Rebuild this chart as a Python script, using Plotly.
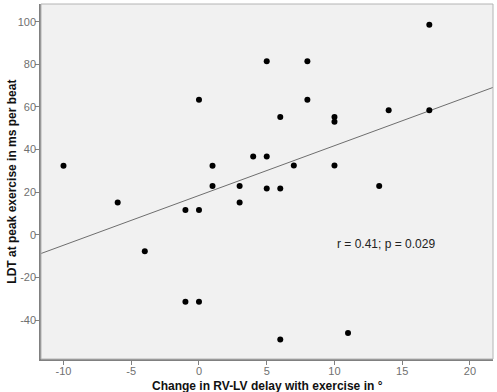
import plotly.graph_objects as go

# Data
change_rv_lv = [-10, 0, 1, 1, 3, 17, 5, 8, 8, 6, 10, 10, 14, 17, 4, 5, 7, 10,
                5, 6, 13.3, -6, -1, 0, 3, -4, -1, 0, 6, 11]
ldt_peak = [32.4, 63.4, 32.4, 22.9, 22.9, 98.6, 81.4, 81.4, 63.4, 55.3, 55.3,
            53.1, 58.5, 58.5, 36.8, 36.8, 32.6, 32.6, 21.8, 21.8, 22.9, 15.2,
            11.7, 11.7, 15.2, -7.65, -31.4, -31.4, -49, -46]

fit_intercept = 18.5
fit_slope = 2.335

x_range = [-11.66, 21.7]
y_range = [-58.2, 108.3]
x_ticks = [-10, -5, 0, 5, 10, 15, 20]
x_tick_labels = ["-10", "-5", "0", "5", "10", "15", "20"]
y_ticks = [-40, -20, 0, 20, 40, 60, 80, 100]
y_tick_labels = ["-40", "-20", "0", "20", "40", "60", "80", "100"]

x_title = "Change in RV-LV delay with exercise in °"
y_title = "LDT at peak exercise in ms per beat"
annotation_text = "r = 0.41; p = 0.029"
annotation_pos = (13.78, -4.4)

font_family = "Arial, Liberation Sans, sans-serif"

fit_x = x_range
fit_y = [fit_intercept + fit_slope * v for v in fit_x]

fig = go.Figure()
fig.add_trace(go.Scatter(x=fit_x, y=fit_y, mode="lines",
                         line=dict(color="#6e6e6e", width=1),
                         hoverinfo="skip", showlegend=False))
fig.add_trace(go.Scatter(x=change_rv_lv, y=ldt_peak, mode="markers",
                         marker=dict(color="black", size=6),
                         showlegend=False))

fig.add_annotation(x=annotation_pos[0], y=annotation_pos[1], text=annotation_text,
                   showarrow=False, font=dict(family=font_family, size=12, color="#222"))

# axis titles as annotations (fixed positions)
fig.add_annotation(xref="paper", yref="paper", x=0.5, y=-0.075, text="<b>" + x_title + "</b>",
                   showarrow=False, xanchor="center", yanchor="middle",
                   font=dict(family=font_family, size=12, color="#111"))
fig.add_annotation(xref="paper", yref="paper", x=-0.066, y=0.5, text="<b>" + y_title + "</b>",
                   showarrow=False, xanchor="center", yanchor="middle", textangle=-90,
                   font=dict(family=font_family, size=12, color="#111"))

# light border around plot area
fig.add_shape(type="rect", xref="paper", yref="paper", x0=0, y0=0, x1=1, y1=1,
              line=dict(color="#b4b4b4", width=1), layer="above")

axis_common = dict(
    showgrid=False, zeroline=False, showline=True, linecolor="#808080", linewidth=1.5,
    ticks="outside", ticklen=4, tickcolor="#808080", tickwidth=1, automargin=False,
    tickfont=dict(family=font_family, size=11, color="#707070"),
    ticklabelstandoff=-3,
)

fig.update_layout(
    width=497, height=392,
    margin=dict(l=41, r=4, t=4, b=33, autoexpand=False),
    paper_bgcolor="white", plot_bgcolor="#f1f1f1",
    xaxis=dict(range=x_range, tickvals=x_ticks, ticktext=x_tick_labels, **axis_common),
    yaxis=dict(range=y_range, tickvals=y_ticks, ticktext=y_tick_labels, **axis_common),
)

fig.write_html("out.html", config={"displayModeBar": False},
               post_script="document.body.style.margin='0';document.body.style.overflow='hidden';")
